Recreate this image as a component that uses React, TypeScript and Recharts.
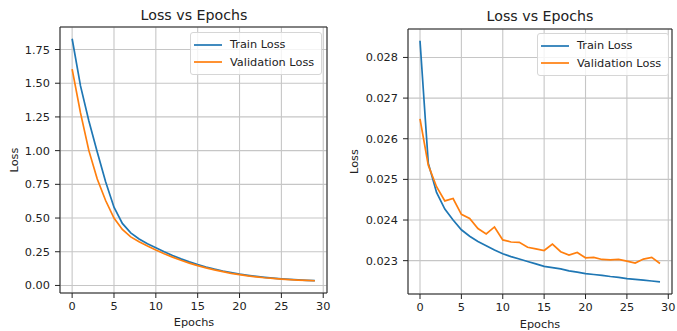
import {
  LineChart,
  Line,
  XAxis,
  YAxis,
  CartesianGrid,
  Legend,
  ReferenceArea,
} from 'recharts';

const epochs = [0, 1, 2, 3, 4, 5, 6, 7, 8, 9, 10, 11, 12, 13, 14, 15, 16, 17, 18, 19, 20, 21, 22, 23, 24, 25, 26, 27, 28, 29];

// left panel
const trainLossA = [1.83, 1.48, 1.22, 0.99, 0.77, 0.58, 0.46, 0.39, 0.345, 0.31, 0.28, 0.25, 0.222, 0.197, 0.175, 0.155, 0.137, 0.121, 0.107, 0.095, 0.084, 0.075, 0.067, 0.06, 0.054, 0.049, 0.045, 0.041, 0.038, 0.036];
const valLossA = [1.605, 1.28, 1.0, 0.79, 0.63, 0.5, 0.415, 0.36, 0.325, 0.293, 0.263, 0.235, 0.21, 0.187, 0.166, 0.147, 0.13, 0.115, 0.102, 0.09, 0.08, 0.071, 0.064, 0.057, 0.052, 0.047, 0.043, 0.04, 0.037, 0.035];

// right panel
const trainLossB = [0.02841, 0.0254, 0.02468, 0.02427, 0.024, 0.02376, 0.0236, 0.02347, 0.02337, 0.02326, 0.02317, 0.0231, 0.02304, 0.02298, 0.02292, 0.02286, 0.02283, 0.0228, 0.02275, 0.02272, 0.02268, 0.02266, 0.02264, 0.02261, 0.02259, 0.02256, 0.02254, 0.02252, 0.0225, 0.02248];
const valLossB = [0.02649, 0.02535, 0.02482, 0.02447, 0.02453, 0.02414, 0.02404, 0.02379, 0.02366, 0.02383, 0.02351, 0.02346, 0.02345, 0.02333, 0.02329, 0.02325, 0.02341, 0.02322, 0.02314, 0.0232, 0.02307, 0.02308, 0.02303, 0.02302, 0.02303, 0.02299, 0.02294, 0.02304, 0.02308, 0.02293];

const xTicks = [0, 5, 10, 15, 20, 25, 30];
const yTicksA = [0, 0.25, 0.5, 0.75, 1.0, 1.25, 1.5, 1.75];
const yTicksB = [0.023, 0.024, 0.025, 0.026, 0.027, 0.028];

const BLUE = '#1f77b4';
const ORANGE = '#ff7f0e';
const FONT = '"DejaVu Sans", sans-serif';
const X_DOMAIN: [number, number] = [-1.45, 30.45];

const dataA = epochs.map((e, i) => ({ epoch: e, train: trainLossA[i], val: valLossA[i] }));
const dataB = epochs.map((e, i) => ({ epoch: e, train: trainLossB[i], val: valLossB[i] }));

function LegendBox({ payload }: any) {
  return (
    <div
      style={{
        border: '1px solid #d6d6d6',
        borderRadius: 3,
        background: 'rgba(255,255,255,0.8)',
        padding: '3px 7px 3px 3px',
        fontFamily: FONT,
        fontSize: 11.3,
        color: '#222',
      }}
    >
      {(payload || []).map((p: any) => (
        <div key={p.value} style={{ display: 'flex', alignItems: 'center', height: 17.5 }}>
          <svg width={28} height={4} style={{ marginRight: 8 }}>
            <line x1={0} y1={2} x2={28} y2={2} stroke={p.color} strokeWidth={1.7} />
          </svg>
          <span>{p.value}</span>
        </div>
      ))}
    </div>
  );
}

interface PanelProps {
  data: any[];
  yDomain: [number, number];
  yTicks: number[];
  digits: number;
  width: number;
  yWidth: number;
  top: number;
  right: number;
  xHeight: number;
  legendLeft: number;
  legendTop: number;
}

function Panel(p: PanelProps) {
  const tick = { fill: '#222', fontSize: 11.3, fontFamily: FONT };
  return (
    <LineChart
      width={p.width}
      height={331}
      data={p.data}
      margin={{ top: p.top, right: p.right, bottom: 0, left: 0 }}
    >
      <CartesianGrid stroke="#c6c6c6" strokeWidth={1.1} />
      <XAxis
        dataKey="epoch"
        type="number"
        domain={X_DOMAIN}
        ticks={xTicks}
        allowDataOverflow
        height={p.xHeight}
        axisLine={false}
        tickLine={{ stroke: '#222' }}
        tickSize={5}
        tickMargin={4}
        tick={tick}
      />
      <YAxis
        type="number"
        domain={p.yDomain}
        ticks={p.yTicks}
        allowDataOverflow
        width={p.yWidth}
        axisLine={false}
        tickLine={{ stroke: '#222' }}
        tickSize={5}
        tickMargin={5}
        tick={tick}
        tickFormatter={(v) => Number(v).toFixed(p.digits)}
      />
      <ReferenceArea
        x1={X_DOMAIN[0]}
        x2={X_DOMAIN[1]}
        y1={p.yDomain[0]}
        y2={p.yDomain[1]}
        fill="none"
        stroke="#222"
        strokeWidth={1}
        fillOpacity={0}
      />
      <Line type="linear" dataKey="train" name="Train Loss" stroke={BLUE} strokeWidth={1.7} dot={false} isAnimationActive={false} />
      <Line type="linear" dataKey="val" name="Validation Loss" stroke={ORANGE} strokeWidth={1.7} dot={false} isAnimationActive={false} />
      <Legend
        layout="vertical"
        align="center"
        verticalAlign="middle"
        content={<LegendBox />}
        wrapperStyle={{ left: p.legendLeft, top: p.legendTop, width: 'auto' }}
      />
    </LineChart>
  );
}

export default function App() {
  const txt = { fontFamily: FONT, fill: '#222' };
  return (
    <div style={{ position: 'absolute', left: 0, top: 0, width: 677, height: 331, background: '#fff' }}>
      <div style={{ position: 'absolute', left: 0, top: 0 }}>
        <Panel
          data={dataA}
          yDomain={[-0.056, 1.917]}
          yTicks={yTicksA}
          digits={2}
          width={338}
          yWidth={60}
          top={27}
          right={11}
          xHeight={38}
          legendLeft={190}
          legendTop={32}
        />
      </div>
      <div style={{ position: 'absolute', left: 340, top: 0 }}>
        <Panel
          data={dataB}
          yDomain={[0.02218, 0.0287]}
          yTicks={yTicksB}
          digits={3}
          width={337}
          yWidth={68}
          top={29}
          right={5}
          xHeight={37}
          legendLeft={197}
          legendTop={33}
        />
      </div>
      <svg width={677} height={331} style={{ position: 'absolute', left: 0, top: 0, pointerEvents: 'none' }}>
        <text x={194} y={19.5} textAnchor="middle" fontSize={14.2} {...txt}>Loss vs Epochs</text>
        <text x={540} y={21} textAnchor="middle" fontSize={14.2} {...txt}>Loss vs Epochs</text>
        <text x={194} y={326} textAnchor="middle" fontSize={11.3} {...txt}>Epochs</text>
        <text x={540} y={327.5} textAnchor="middle" fontSize={11.3} {...txt}>Epochs</text>
        <text x={18} y={160} textAnchor="middle" fontSize={11.3} transform="rotate(-90 18 160)" {...txt}>Loss</text>
        <text x={358} y={161.5} textAnchor="middle" fontSize={11.3} transform="rotate(-90 358 161.5)" {...txt}>Loss</text>
      </svg>
    </div>
  );
}
